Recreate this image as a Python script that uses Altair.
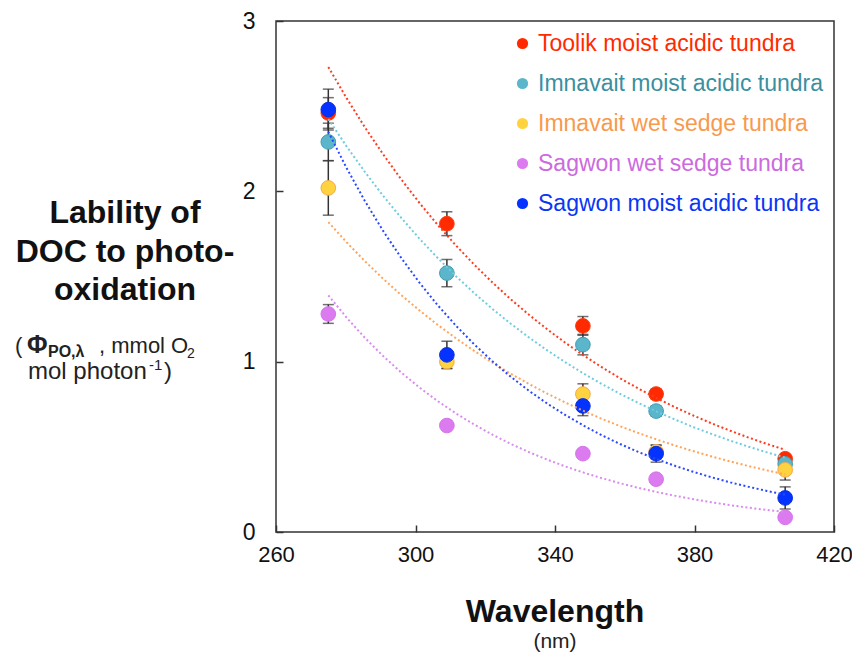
import altair as alt
import pandas as pd

# ---------------- data ----------------
wavelength = [275, 309, 348, 369, 406]
series = [
    "Toolik moist acidic tundra",
    "Imnavait moist acidic tundra",
    "Imnavait wet sedge tundra",
    "Sagwon wet sedge tundra",
    "Sagwon moist acidic tundra",
]
toolik_moist = [2.46, 1.81, 1.21, 0.81, 0.43]
imnavait_moist = [2.29, 1.52, 1.10, 0.71, 0.40]
imnavait_wet = [2.02, 1.00, 0.81, 0.47, 0.365]
sagwon_wet = [1.28, 0.625, 0.46, 0.31, 0.086]
sagwon_moist = [2.48, 1.04, 0.74, 0.46, 0.20]

toolik_moist_err = [0.09, 0.07, 0.055, 0.03, 0.02]
imnavait_moist_err = [0.11, 0.08, 0.06, 0.03, 0.02]
imnavait_wet_err = [0.16, 0.04, 0.06, 0.04, 0.06]
sagwon_wet_err = [0.055, 0.0, 0.0, 0.0, 0.0]
sagwon_moist_err = [0.12, 0.08, 0.057, 0.05, 0.065]

x_ticks = [260, 300, 340, 380, 420]
y_ticks = [0, 1, 2, 3]

values = [toolik_moist, imnavait_moist, imnavait_wet, sagwon_wet, sagwon_moist]
errors = [toolik_moist_err, imnavait_moist_err, imnavait_wet_err, sagwon_wet_err, sagwon_moist_err]

# ---------------- styles ----------------
fill_colors = ["#FF2A00", "#5BB6CB", "#FFD23F", "#DC7BEF", "#0433FF"]
edge_colors = ["#FF3A10", "#3F9DB3", "#F6A94C", "#D474EA", "#0A30E0"]
fit_colors = ["#FF3B1F", "#6FCCDD", "#FFA45A", "#D98BF0", "#2A48FF"]
text_colors = ["#FF2A00", "#3A8FA0", "#F79A4E", "#CC6ADF", "#0A36F5"]
FONT = "Liberation Sans"

rows = []
for k, (name, vals, errs) in enumerate(zip(series, values, errors)):
    for w, v, e in zip(wavelength, vals, errs):
        rows.append({"series": name, "k": k, "wavelength": w, "phi": v,
                     "lo": v - e, "hi": v + e})
df = pd.DataFrame(rows)

x_enc = alt.X(
    "wavelength:Q",
    scale=alt.Scale(domain=[260, 420], nice=False, zero=False),
    axis=alt.Axis(values=x_ticks, title=None, offset=-7, tickSize=7, domain=False,
                  grid=False, labelPadding=12, labelFontSize=22, labelFont=FONT,
                  labelColor="#111111", tickColor="#333333", tickWidth=1.5,
                  labelFlush=False),
)
y_scale = alt.Scale(domain=[0, 3], nice=False, zero=False)
y_axis = alt.Axis(values=y_ticks, title=None, offset=-7, tickSize=7, domain=False,
                  grid=False, labelPadding=21, labelFontSize=23, labelFont=FONT,
                  labelColor="#111111", tickColor="#333333", tickWidth=1.5,
                  labelFlush=False)

base = alt.Chart(df)

err_rule = base.mark_rule(color="#333333", strokeWidth=1.5).encode(
    x=x_enc,
    y=alt.Y("lo:Q", scale=y_scale, axis=y_axis),
    y2="hi:Q",
)
err_lo = base.mark_tick(color="#333333", thickness=1.5, size=11, orient="horizontal").encode(
    x=x_enc, y=alt.Y("lo:Q", scale=y_scale, axis=y_axis))
err_hi = base.mark_tick(color="#333333", thickness=1.5, size=11, orient="horizontal").encode(
    x=x_enc, y=alt.Y("hi:Q", scale=y_scale, axis=y_axis))

label_expr = ""
for name, c in zip(series[:-1], text_colors[:-1]):
    label_expr += f"datum.label === '{name}' ? '{c}' : "
label_expr += f"'{text_colors[-1]}'"

points = base.mark_circle(size=215, opacity=1, strokeWidth=1).encode(
    x=x_enc,
    y=alt.Y("phi:Q", scale=y_scale, axis=y_axis),
    fill=alt.Fill(
        "series:N",
        scale=alt.Scale(domain=series, range=fill_colors),
        legend=alt.Legend(
            title=None, orient="none", legendX=235, legendY=11,
            labelFontSize=23, labelFont=FONT, labelLimit=500,
            labelColor={"expr": label_expr},
            symbolType="circle", symbolSize=125, symbolStrokeWidth=0,
            rowPadding=16, labelOffset=4, padding=0,
        ),
    ),
    stroke=alt.Stroke("series:N", scale=alt.Scale(domain=series, range=edge_colors), legend=None),
    order=alt.Order("k:Q"),
)

fits = (
    base.transform_calculate(logphi="log(datum.phi)")
    .transform_regression("wavelength", "logphi", groupby=["series"], method="poly", order=1)
    .transform_calculate(fit="exp(datum.logphi)")
    .mark_line(strokeDash=[2, 2.5], strokeWidth=2)
    .encode(
        x=x_enc,
        y=alt.Y("fit:Q", scale=y_scale, axis=y_axis),
        color=alt.Color("series:N", scale=alt.Scale(domain=series, range=fit_colors), legend=None),
        detail="series:N",
    )
)

one = pd.DataFrame({"t": [0]})


def txt(s, x, y, size, bold=False, align="left", color="#111111"):
    return alt.Chart(one).mark_text(
        align=align, baseline="alphabetic", fontSize=size, font=FONT,
        fontWeight="bold" if bold else "normal", color=color,
    ).encode(x=alt.value(x), y=alt.value(y), text=alt.value(s))


texts = [
    txt("Lability of", -151, 202, 32, True, "center"),
    txt("DOC to photo-", -151, 241, 32, True, "center"),
    txt("oxidation", -151, 279, 32, True, "center"),
    txt("(", -261, 332, 22, color="#222222"),
    txt("\u03a6", -249, 332, 25, True, color="#222222"),
    txt("PO,\u03bb", -228, 336, 16, True, color="#222222"),
    txt(", mmol O", -177, 332, 22, color="#222222"),
    txt("2", -89, 337, 14, color="#222222"),
    txt("mol photon", -248, 358, 24, color="#222222"),
    txt("-1", -127, 349, 15, color="#222222"),
    txt(")", -112, 358, 24, color="#222222"),
    txt("Wavelength", 279, 601, 32, True, "center"),
    txt("(nm)", 279, 627, 21, False, "center", "#222222"),
]

chart = alt.layer(err_rule, err_lo, err_hi, points, fits, *texts).properties(
    width=558, height=511,
    autosize=alt.AutoSizeParams(type="none"),
    padding={"left": 268, "top": 13, "right": 18, "bottom": 121},
).configure_view(stroke="#333333", strokeWidth=1.5)

chart.save("out.html", embed_options={"renderer": "svg", "actions": False})
